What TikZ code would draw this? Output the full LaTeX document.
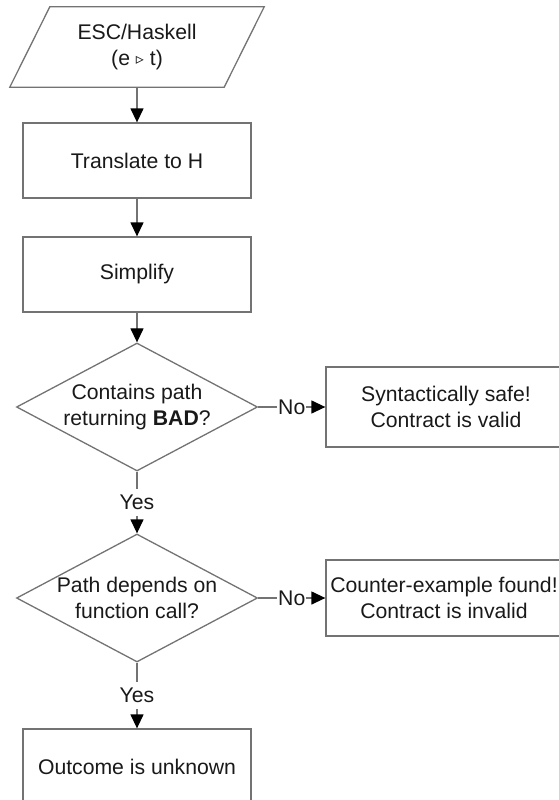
\documentclass[tikz,border=0pt]{standalone}
\usepackage{fontspec}
\setmainfont{Liberation Sans}
\newfontfamily\djv{DejaVu Sans}
\usetikzlibrary{shapes.geometric,arrows.meta}
\begin{document}
\begin{tikzpicture}[x=1pt,y=-1pt,
  every node/.style={font=\fontsize{21.2}{26}\selectfont, text=black!90},
  ln/.style={draw=black!55, line width=1.3pt},
  proc/.style={ln, rectangle, minimum width=228pt, minimum height=75pt, inner sep=0pt},
  dec/.style={ln, diamond, minimum width=241pt, minimum height=128pt, inner sep=0pt},
  conn/.style={ln, -{Triangle[length=14pt,width=13pt,color=black]}},
  lab/.style={fill=white, inner xsep=1pt, inner ysep=6pt},
]
\useasboundingbox (0,0) rectangle (558,800);
\node[minimum width=254pt, minimum height=80pt, inner sep=0pt, align=center] (para) at (137,47)
  {ESC/Haskell\\(e \raisebox{1pt}{\djv\fontsize{16}{16}\selectfont ▹} t)};
\draw[ln] ([xshift=40pt]para.north west) -- (para.north east) -- ([xshift=-40pt]para.south east) -- (para.south west) -- cycle;

\node[proc] (b1) at (137,160.5) {Translate to H};
\node[proc] (b2) at (137,274.5) {Simplify};
\node[dec] (d1) at (137,407) {};
\node[align=center, inner sep=0pt] (d1t) at (137,407) {Contains path\\returning \textbf{BAD}?};
\node[proc, minimum width=240pt, minimum height=80pt, align=center] (s1) at (446,407) {Syntactically safe!\\Contract is valid};
\node[dec] (d2) at (137,598) {};
\node[align=center, inner sep=0pt] (d2t) at (137,598) {Path depends on\\function call?};
\node[proc, minimum width=236pt, minimum height=76pt, align=center] (s2) at (444,598) {Counter-example found!\\Contract is invalid};
\node[proc] (b3) at (137,766.5) {Outcome is unknown};

\draw[conn] (para) -- (b1);
\draw[conn] (b1) -- (b2);
\draw[conn] (b2) -- (d1);
\draw[conn] (d1) -- node[lab]{No} (s1);
\draw[conn] (d1) -- node[lab]{Yes} (d2);
\draw[conn] (d2) -- node[lab]{No} (s2);
\draw[conn] (d2) -- node[lab]{Yes} (b3);
\end{tikzpicture}
\end{document}
